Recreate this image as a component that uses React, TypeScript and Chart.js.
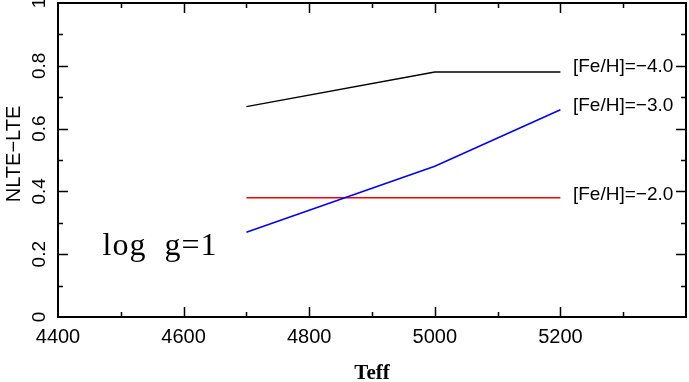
import React, { useEffect, useRef } from "react";
import { Chart, registerables } from "chart.js";

Chart.register(...registerables);

const teffBlack = [4700, 5000, 5200];
const nlteBlack = [0.67, 0.78, 0.78];
const teffBlue = [4700, 5000, 5200];
const nlteBlue = [0.27, 0.48, 0.66];
const teffRed = [4700, 5200];
const nlteRed = [0.38, 0.38];

const seriesLabels = ["[Fe/H]=\u22124.0", "[Fe/H]=\u22123.0", "[Fe/H]=\u22122.0"];
const seriesLabelY = [0.798, 0.674, 0.389];
const seriesLabelX = 5220;
const panelNote = "log  g=1";
const panelNoteX = 4471;
const panelNoteY = 0.197;

const xMin = 4400;
const xMax = 5400;
const yMin = 0;
const yMax = 1;

const SANS = "'Liberation Sans', Arial, sans-serif";
const SERIF = "'Liberation Serif', 'Times New Roman', serif";

const framePlugin = {
  id: "framePlugin",
  afterDraw(chart: any) {
    const { ctx, chartArea } = chart;
    const xs = chart.scales.x;
    const ys = chart.scales.y;
    const { left, right, top, bottom } = chartArea;
    ctx.save();
    ctx.strokeStyle = "#000";
    ctx.lineWidth = 2;
    ctx.strokeRect(left, top, right - left, bottom - top);
    ctx.lineWidth = 1.5;
    // x ticks
    xs.ticks.forEach((t: any) => {
      const v = t.value;
      if (v <= xMin || v >= xMax) return;
      const px = Math.round(xs.getPixelForValue(v)) + 0.5;
      const major = Math.round(v) % 200 === 0;
      const len = major ? 10 : 5;
      ctx.beginPath();
      ctx.moveTo(px, bottom);
      ctx.lineTo(px, bottom - len);
      ctx.moveTo(px, top);
      ctx.lineTo(px, top + len);
      ctx.stroke();
    });
    // y ticks and labels
    ys.ticks.forEach((t: any) => {
      const v = t.value;
      const py = Math.round(ys.getPixelForValue(v)) + 0.5;
      const major = Math.round(v * 10) % 2 === 0;
      if (v > yMin && v < yMax) {
        const len = major ? 10 : 5;
        ctx.beginPath();
        ctx.moveTo(left, py);
        ctx.lineTo(left + len, py);
        ctx.moveTo(right, py);
        ctx.lineTo(right - len, py);
        ctx.stroke();
      }
      if (major) {
        const label = Math.abs(v) < 1e-9 ? "0" : Math.abs(v - 1) < 1e-9 ? "1" : v.toFixed(1);
        ctx.save();
        ctx.translate(45, ys.getPixelForValue(v));
        ctx.rotate(-Math.PI / 2);
        ctx.fillStyle = "#000";
        ctx.font = `19px ${SANS}`;
        ctx.textAlign = "center";
        ctx.textBaseline = "alphabetic";
        ctx.fillText(label, 0, 0);
        ctx.restore();
      }
    });
    // y title
    ctx.save();
    ctx.translate(20, (top + bottom) / 2 - 6);
    ctx.rotate(-Math.PI / 2);
    ctx.fillStyle = "#000";
    ctx.font = `20px ${SANS}`;
    ctx.textAlign = "center";
    ctx.textBaseline = "alphabetic";
    ctx.fillText("NLTE\u2212LTE", 0, 0);
    ctx.restore();
    // series labels
    ctx.fillStyle = "#000";
    ctx.font = `19px ${SANS}`;
    ctx.textAlign = "left";
    ctx.textBaseline = "middle";
    seriesLabels.forEach((s, i) => {
      ctx.fillText(s, xs.getPixelForValue(seriesLabelX), ys.getPixelForValue(seriesLabelY[i]));
    });
    // panel note
    ctx.font = `32px ${SERIF}`;
    ctx.textBaseline = "alphabetic";
    try {
      (ctx as any).letterSpacing = "1px";
    } catch (e) {}
    ctx.fillText(panelNote, xs.getPixelForValue(panelNoteX), ys.getPixelForValue(panelNoteY));
    ctx.restore();
  },
};

export default function App() {
  const ref = useRef<HTMLCanvasElement | null>(null);
  useEffect(() => {
    if (!ref.current) return;
    const mk = (xs: number[], ys: number[]) => xs.map((x, i) => ({ x, y: ys[i] }));
    const chart = new Chart(ref.current, {
      type: "line",
      data: {
        datasets: [
          { data: mk(teffBlack, nlteBlack), borderColor: "#000000", borderWidth: 1.5, pointRadius: 0, fill: false, tension: 0 },
          { data: mk(teffBlue, nlteBlue), borderColor: "#0000ff", borderWidth: 1.5, pointRadius: 0, fill: false, tension: 0 },
          { data: mk(teffRed, nlteRed), borderColor: "#ff0000", borderWidth: 1.5, pointRadius: 0, fill: false, tension: 0 },
        ],
      },
      options: {
        responsive: false,
        animation: false,
        events: [],
        layout: { padding: { top: 3, right: 3, left: 0, bottom: 0 } },
        plugins: { legend: { display: false }, tooltip: { enabled: false } },
        scales: {
          x: {
            type: "linear",
            min: xMin,
            max: xMax,
            border: { display: false },
            grid: { display: false, drawTicks: false },
            ticks: {
              stepSize: 100,
              autoSkip: false,
              maxRotation: 0,
              padding: 8,
              color: "#000",
              font: { family: SANS, size: 20 },
              callback: (v: any) => {
                const n = Number(v);
                return n % 200 === 0 && n < xMax ? String(n) : "";
              },
            },
            title: {
              display: true,
              text: "Teff",
              color: "#000",
              font: { family: SERIF, size: 21, weight: "bold" },
              padding: { top: 14, bottom: -4 },
            },
            afterFit: (s: any) => {
              s.height = 65;
              s.paddingRight = 0;
              s.paddingLeft = 0;
            },
          },
          y: {
            type: "linear",
            min: yMin,
            max: yMax,
            border: { display: false },
            grid: { display: false, drawTicks: false },
            ticks: { stepSize: 0.1, display: false },
            afterFit: (s: any) => {
              s.width = 58;
              s.paddingTop = 0;
              s.paddingBottom = 0;
            },
          },
        },
      },
      plugins: [framePlugin],
    });
    return () => chart.destroy();
  }, []);
  return (
    <div style={{ position: "absolute", left: 0, top: 0, width: 689, height: 382, background: "#fff" }}>
      <canvas ref={ref} width={689} height={382} />
    </div>
  );
}
